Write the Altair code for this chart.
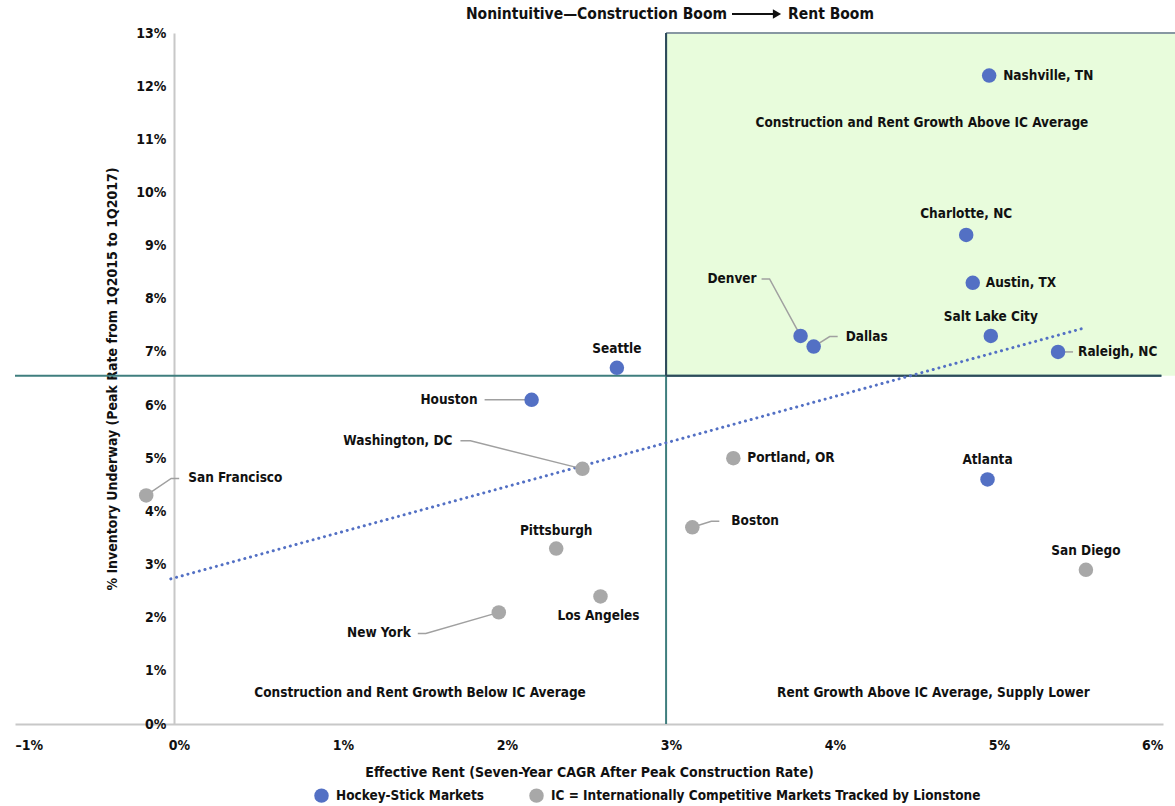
import altair as alt
import pandas as pd

# ---- data -------------------------------------------------------------
city = ["Nashville, TN", "Charlotte, NC", "Austin, TX", "Salt Lake City", "Raleigh, NC",
        "Denver", "Dallas", "Seattle", "Houston", "Atlanta",
        "San Francisco", "Washington, DC", "Portland, OR", "Boston", "Pittsburgh",
        "Los Angeles", "New York", "San Diego"]
rent_cagr = [4.94, 4.80, 4.84, 4.95, 5.36,
             3.79, 3.87, 2.67, 2.15, 4.93,
             -0.20, 2.46, 3.38, 3.13, 2.30,
             2.57, 1.95, 5.53]
inventory = [12.2, 9.2, 8.3, 7.3, 7.0,
             7.3, 7.1, 6.7, 6.1, 4.6,
             4.3, 4.8, 5.0, 3.7, 3.3,
             2.4, 2.1, 2.9]
HOCKEY = "Hockey-Stick Markets"
IC = "IC = Internationally Competitive Markets Tracked by Lionstone"
group = [HOCKEY] * 10 + [IC] * 8

# IC averages splitting the quadrants
ic_avg_rent = 2.97
ic_avg_inventory = 6.55

# linear trend endpoints
trend_x = [-0.05, 5.52]
trend_y = [2.73, 7.45]

quadrant_text = ["Construction and Rent Growth Above IC Average",
                 "Construction and Rent Growth Below IC Average",
                 "Rent Growth Above IC Average, Supply Lower"]
quadrant_x = [4.53, 1.47, 4.6]
quadrant_y = [11.3, 0.58, 0.58]

# ---- styling ----------------------------------------------------------
FONT = "DejaVu Sans Condensed, Liberation Sans Narrow, sans-serif"
FS = 13.5
BLUE = "#5370c4"
GRAY = "#a8a8a8"
TEAL = "#3f7e7e"
DARK = "#2e4a5a"
GREEN = "#e8fcdc"

W, H = 1148, 691
X_MIN, X_MAX = -1, 6
Y_MIN, Y_MAX = 0, 13
PX_X = W / (X_MAX - X_MIN)
PX_Y = H / (Y_MAX - Y_MIN)

# label placement per city: (dx px, dy px, align)
label_pos = {
    "Nashville, TN": (14, 0, "left"),
    "Charlotte, NC": (0, -21, "center"),
    "Austin, TX": (13, 0, "left"),
    "Salt Lake City": (0, -19, "center"),
    "Raleigh, NC": (20, 0, "left"),
    "Denver": (-44, -57, "right"),
    "Dallas": (32, -10, "left"),
    "Seattle": (0, -19, "center"),
    "Houston": (-54, 0, "right"),
    "Atlanta": (0, -19, "center"),
    "San Francisco": (42, -17, "left"),
    "Washington, DC": (-130, -28, "right"),
    "Portland, OR": (14, 0, "left"),
    "Boston": (39, -6, "left"),
    "Pittsburgh": (0, -18, "center"),
    "Los Angeles": (-2, 20, "center"),
    "New York": (-88, 21, "right"),
    "San Diego": (0, -19, "center"),
}
# leader line elbows per city, px offsets from the point
leaders = {
    "San Francisco": [(25, -17), (33, -17)],
    "Washington, DC": [(-112, -28), (-122, -28)],
    "Houston": [(-47, 0)],
    "Denver": [(-31, -57), (-39, -57)],
    "Dallas": [(16, -10), (24, -10)],
    "Boston": [(19, -6), (27, -6)],
    "New York": [(-73, 21), (-81, 21)],
    "Raleigh, NC": [(15, 0)],
}

pts = pd.DataFrame({"city": city, "rent": rent_cagr, "inv": inventory, "group": group})

lab_rows = []
for c, r, v in zip(city, rent_cagr, inventory):
    dx, dy, al = label_pos[c]
    lab_rows.append({"city": c, "lx": r + dx / PX_X, "ly": v - dy / PX_Y, "align": al})
labels = pd.DataFrame(lab_rows)

lead_rows = []
for c, elbows in leaders.items():
    i = city.index(c)
    r, v = rent_cagr[i], inventory[i]
    lead_rows.append({"city": c, "order": 0, "x": r, "y": v})
    for k, (ex, ey) in enumerate(elbows, start=1):
        lead_rows.append({"city": c, "order": k, "x": r + ex / PX_X, "y": v - ey / PX_Y})
lead = pd.DataFrame(lead_rows)

xs = alt.Scale(domain=[X_MIN, X_MAX], nice=False, zero=False)
ys = alt.Scale(domain=[Y_MIN, Y_MAX], nice=False, zero=False)

green = alt.Chart(pd.DataFrame({"x": [ic_avg_rent], "x2": [X_MAX + 0.075],
                                "y": [ic_avg_inventory], "y2": [Y_MAX]})).mark_rect(
    color=GREEN).encode(x=alt.X("x:Q", scale=xs), x2="x2", y=alt.Y("y:Q", scale=ys), y2="y2")

top_edge = alt.Chart(pd.DataFrame({"x": [ic_avg_rent], "x2": [X_MAX + 0.075], "y": [Y_MAX]})).mark_rule(
    color="#8797a2", strokeWidth=2).encode(x=alt.X("x:Q", scale=xs), x2="x2", y=alt.Y("y:Q", scale=ys))

vline = alt.Chart(pd.DataFrame({"x": [ic_avg_rent], "y": [Y_MIN], "y2": [Y_MAX]})).mark_rule(
    color=TEAL, strokeWidth=2).encode(x=alt.X("x:Q", scale=xs), y=alt.Y("y:Q", scale=ys), y2="y2")
vline_top = alt.Chart(pd.DataFrame({"x": [ic_avg_rent], "y": [ic_avg_inventory], "y2": [Y_MAX]})).mark_rule(
    color=DARK, strokeWidth=2).encode(x=alt.X("x:Q", scale=xs), y=alt.Y("y:Q", scale=ys), y2="y2")
hline = alt.Chart(pd.DataFrame({"x": [X_MIN], "x2": [X_MAX - 0.01], "y": [ic_avg_inventory]})).mark_rule(
    color=TEAL, strokeWidth=2).encode(x=alt.X("x:Q", scale=xs), x2="x2", y=alt.Y("y:Q", scale=ys))
hline_right = alt.Chart(pd.DataFrame({"x": [ic_avg_rent], "x2": [X_MAX - 0.01], "y": [ic_avg_inventory]})).mark_rule(
    color=DARK, strokeWidth=2).encode(x=alt.X("x:Q", scale=xs), x2="x2", y=alt.Y("y:Q", scale=ys))

trend = alt.Chart(pd.DataFrame({"x": trend_x, "y": trend_y})).mark_line(
    color=BLUE, strokeWidth=3, strokeDash=[0.1, 5.8], strokeCap="round").encode(
    x=alt.X("x:Q", scale=xs), y=alt.Y("y:Q", scale=ys))

leader_lines = alt.Chart(lead).mark_line(color="#a0a0a0", strokeWidth=1.5).encode(
    x=alt.X("x:Q", scale=xs), y=alt.Y("y:Q", scale=ys), detail="city:N", order="order:Q")

points = alt.Chart(pts).mark_circle(size=210, opacity=1).encode(
    x=alt.X("rent:Q", scale=xs,
            title="Effective Rent (Seven-Year CAGR After Peak Construction Rate)",
            axis=alt.Axis(values=list(range(X_MIN, X_MAX + 1)), ticks=False, grid=False,
                          domainColor="#c8c8c8", domainWidth=2, labelPadding=14,
                          labelExpr="datum.value < 0 ? '\u2013' + abs(datum.value) + '%' : datum.value + '%'",
                          titlePadding=13)),
    y=alt.Y("inv:Q", scale=ys,
            title="% Inventory Underway (Peak Rate from 1Q2015 to 1Q2017)",
            axis=alt.Axis(values=list(range(Y_MIN, Y_MAX + 1)), ticks=False, grid=False,
                          offset=-159, domainColor="#c8c8c8", domainWidth=2, labelPadding=8,
                          labelExpr="datum.value + '%'", titlePadding=16)),
    color=alt.Color("group:N",
                    scale=alt.Scale(domain=[HOCKEY, IC], range=[BLUE, GRAY]),
                    legend=alt.Legend(title=None, orient="none", direction="horizontal",
                                      legendX=299, legendY=755, symbolType="circle",
                                      symbolSize=210, symbolStrokeWidth=0, columnPadding=44,
                                      labelLimit=0, labelOffset=7,
                                      labelFontSize=FS, labelFont=FONT, labelFontWeight="bold",
                                      labelColor="#111")),
)


def city_text(al):
    return alt.Chart(labels).transform_filter(alt.datum.align == al).mark_text(
        fontSize=FS, font=FONT, fontWeight="bold", color="#111", baseline="middle", align=al).encode(
        x=alt.X("lx:Q", scale=xs), y=alt.Y("ly:Q", scale=ys), text="city:N")


quad = alt.Chart(pd.DataFrame({"t": quadrant_text, "x": quadrant_x, "y": quadrant_y})).mark_text(
    fontSize=FS, font=FONT, fontWeight="bold", color="#111", baseline="middle", align="center").encode(
    x=alt.X("x:Q", scale=xs), y=alt.Y("y:Q", scale=ys), text="t:N")

# headline: two text pieces joined by a drawn arrow
head_left = alt.Chart(pd.DataFrame({"t": ["Nonintuitive\u2014Construction Boom"]})).mark_text(
    fontSize=15.5, font=FONT, fontWeight="bold", color="#111", align="right", baseline="middle").encode(
    x=alt.value(712), y=alt.value(-19), text="t:N")
head_right = alt.Chart(pd.DataFrame({"t": ["Rent Boom"]})).mark_text(
    fontSize=15.5, font=FONT, fontWeight="bold", color="#111", align="left", baseline="middle").encode(
    x=alt.value(773), y=alt.value(-19), text="t:N")
arrow_shaft = alt.Chart(pd.DataFrame({"a": [0]})).mark_rule(color="#111", strokeWidth=2.2).encode(
    x=alt.value(717), x2=alt.value(759), y=alt.value(-19))
arrow_head = alt.Chart(pd.DataFrame({"a": [0]})).mark_point(
    shape="triangle-right", filled=True, color="#111", size=90, opacity=1).encode(
    x=alt.value(762), y=alt.value(-19))

chart = alt.layer(
    green, top_edge, vline, hline, vline_top, hline_right, trend, leader_lines, points,
    city_text("left"), city_text("center"), city_text("right"),
    quad, head_left, arrow_shaft, arrow_head, head_right,
).properties(
    width=W, height=H,
    autosize=alt.AutoSizeParams(type="none"),
    padding={"left": 15, "top": 33, "right": 12, "bottom": 82},
).configure_view(stroke=None).configure_axis(
    labelFont=FONT, labelFontSize=14, labelFontWeight="bold", labelColor="#111",
    titleFont=FONT, titleFontSize=14, titleFontWeight="bold", titleColor="#111",
)

chart.save("out.html", embed_options={"renderer": "svg", "actions": False})
